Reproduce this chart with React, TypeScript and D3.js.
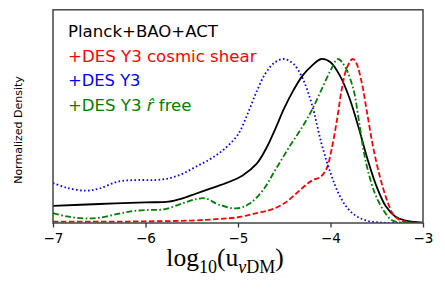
import { useEffect, useRef } from "react";
import * as d3 from "d3";

// posterior curves (peak normalised to 1)
const blackX = [-7, -6.5, -6, -5.75, -5.6, -5.45, -5.3, -5.1, -4.95, -4.8, -4.7, -4.6, -4.5, -4.4, -4.3, -4.2, -4.1, -4.0, -3.9, -3.8, -3.7, -3.6, -3.5, -3.4, -3.3, -3.2, -3.1, -3.0];
const blackY = [0.104, 0.116, 0.126, 0.13, 0.15, 0.18, 0.21, 0.25, 0.29, 0.36, 0.45, 0.57, 0.7, 0.81, 0.9, 0.96, 1.0, 0.98, 0.9, 0.77, 0.59, 0.39, 0.22, 0.1, 0.04, 0.016, 0.006, 0.002];

const redX = [-7, -6.5, -6, -5.5, -5.2, -5.0, -4.8, -4.65, -4.5, -4.37, -4.26, -4.19, -4.11, -4.04, -3.99, -3.93, -3.88, -3.825, -3.76, -3.72, -3.66, -3.61, -3.54, -3.465, -3.39, -3.32, -3.25, -3.15, -3.0];
const redY = [0.008, 0.008, 0.01, 0.015, 0.025, 0.035, 0.06, 0.08, 0.12, 0.18, 0.235, 0.262, 0.28, 0.335, 0.445, 0.628, 0.81, 0.943, 1.0, 0.974, 0.85, 0.69, 0.465, 0.28, 0.14, 0.05, 0.018, 0.004, 0];

const blueX = [-7, -6.85, -6.65, -6.5, -6.3, -6.1, -5.9, -5.75, -5.6, -5.45, -5.3, -5.15, -5.0, -4.9, -4.8, -4.7, -4.6, -4.5, -4.4, -4.3, -4.2, -4.1, -4.0, -3.9, -3.8, -3.7, -3.6, -3.5, -3.4, -3.2, -3.0];
const blueY = [0.244, 0.215, 0.197, 0.21, 0.252, 0.262, 0.262, 0.272, 0.3, 0.345, 0.39, 0.45, 0.54, 0.66, 0.8, 0.915, 0.98, 1.0, 0.97, 0.88, 0.72, 0.49, 0.305, 0.165, 0.08, 0.035, 0.013, 0.005, 0.001, 0, 0];

const greenX = [-7, -6.85, -6.67, -6.5, -6.3, -6.13, -5.95, -5.8, -5.6, -5.45, -5.35, -5.2, -5.0, -4.87, -4.73, -4.6, -4.45, -4.3, -4.2, -4.1, -4.0, -3.92, -3.84, -3.75, -3.7, -3.65, -3.6, -3.52, -3.43, -3.34, -3.25, -3.1, -3.0];
const greenY = [0.06, 0.04, 0.028, 0.032, 0.055, 0.073, 0.08, 0.083, 0.12, 0.146, 0.15, 0.11, 0.09, 0.12, 0.2, 0.32, 0.46, 0.59, 0.69, 0.81, 0.93, 1.0, 0.95, 0.81, 0.65, 0.465, 0.33, 0.18, 0.08, 0.018, 0.004, 0, 0];

const xTicks = [-7, -6, -5, -4, -3];
const labels = ["Planck+BAO+ACT", "+DES Y3 cosmic shear", "+DES Y3", "+DES Y3 "];
const labelWidths = [150, 188.5, 72.5, 123.5];

const series = [
  { xs: blackX, ys: blackY, color: "#000000", dash: "none" },
  { xs: redX, ys: redY, color: "#ff0000", dash: "5.5,2.5" },
  { xs: blueX, ys: blueY, color: "#0000ff", dash: "1.6,2.4" },
  { xs: greenX, ys: greenY, color: "#008000", dash: "6,2.4,1.6,2.4" },
];

const W = 445;
const H = 290;
const plot = { left: 53, right: 423, top: 9.8, bottom: 223 };
const font = "DejaVu Sans, sans-serif";

function AxisBottom({ scale }: { scale: d3.ScaleLinear<number, number> }) {
  const ref = useRef<SVGGElement>(null);
  useEffect(() => {
    if (!ref.current) return;
    const g = d3.select(ref.current);
    g.call(
      d3.axisBottom(scale).tickValues(xTicks).tickSize(4.5).tickPadding(6)
        .tickFormat((d) => d3.format("d")(d as number))
    );
    g.select(".domain").remove();
    g.selectAll("line").attr("stroke", "#333").attr("stroke-width", 1.3);
    g.selectAll("text").attr("font-size", 13.5).attr("font-family", font).attr("fill", "#000");
  }, [scale]);
  return <g ref={ref} transform={`translate(0,${plot.bottom})`} />;
}

export default function App() {
  useEffect(() => {
    document.body.style.margin = "0";
  }, []);

  const x = d3.scaleLinear().domain([-7, -3]).range([plot.left, plot.right]);
  const y = d3.scaleLinear().domain([0, 1.3]).range([plot.bottom, plot.top]);

  const line = d3
    .line<[number, number]>()
    .x((d) => x(d[0]))
    .y((d) => y(d[1]))
    .curve(d3.curveCatmullRom.alpha(0.5));

  return (
    <svg width={W} height={H} style={{ display: "block", background: "#fff" }}>
      <defs>
        <clipPath id="clip">
          <rect x={plot.left} y={plot.top} width={plot.right - plot.left} height={plot.bottom - plot.top} />
        </clipPath>
      </defs>
      <g clipPath="url(#clip)">
        {series.map((s, i) => (
          <path
            key={i}
            d={line(s.xs.map((v, j) => [v, s.ys[j]] as [number, number])) ?? ""}
            fill="none"
            stroke={s.color}
            strokeWidth={1.8}
            strokeDasharray={s.dash}
          />
        ))}
      </g>
      <rect
        x={plot.left}
        y={plot.top}
        width={plot.right - plot.left}
        height={plot.bottom - plot.top}
        fill="none"
        stroke="#444"
        strokeWidth={1.5}
      />
      <AxisBottom scale={x} />

      {labels.map((t, i) => (
        <text
          key={t}
          x={68}
          y={37.3 + i * 24.5}
          fontFamily={font}
          fontSize={16.6}
          fill={series[i].color}
          textLength={labelWidths[i]}
          lengthAdjust="spacingAndGlyphs"
        >
          {t}
          {i === 3 && (
            <>
              <tspan fontStyle="italic">r̂</tspan>
              <tspan> free</tspan>
            </>
          )}
        </text>
      ))}

      <text
        transform={`translate(21.5,130) rotate(-90)`}
        textAnchor="middle"
        fontFamily={font}
        fontSize={11}
        fill="#000"
      >
        Normalized Density
      </text>

      <text x={225} y={266} textAnchor="middle" fontFamily="Liberation Serif, serif" fontSize={25.5} fill="#000">
        log
        <tspan fontSize={18} dy={7}>10</tspan>
        <tspan dy={-7}>(u</tspan>
        <tspan fontSize={18} dy={7}>
          <tspan fontStyle="italic">ν</tspan>DM
        </tspan>
        <tspan dy={-7}>)</tspan>
      </text>
    </svg>
  );
}
